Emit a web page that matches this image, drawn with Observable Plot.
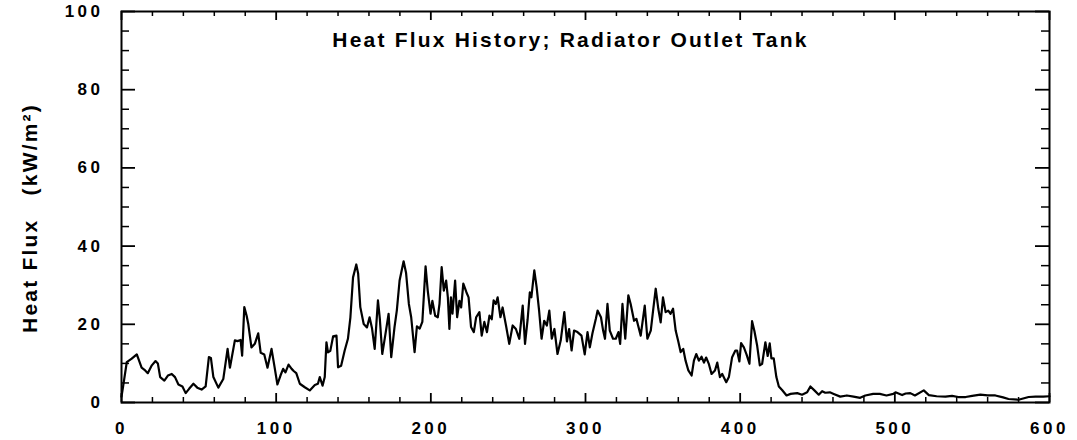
<!DOCTYPE html>
<html><head><meta charset="utf-8">
<script src="https://cdn.jsdelivr.net/npm/d3@7"></script>
<script src="https://cdn.jsdelivr.net/npm/@observablehq/plot@0.6"></script>
<style>body{margin:0;background:#fff;} svg{display:block;}</style>
</head><body><div id="chart"></div>
<script>
const time = [0,1,3.4,6.6,9.9,13,15.3,17,19.6,22,23.5,25,27.7,30,32.5,34.6,36.8,39.4,41.5,43.7,46.5,49,51.8,54.4,56.5,57.8,59.4,62.6,65.8,68.6,70.1,73.3,75,77,78,79.4,80.9,82,84,86.2,88.4,90,92.3,94.4,97,99,100.8,102.8,104.5,106,108,110,111.5,113,115.3,118.5,121.7,125,127,128.2,130,131.4,132.5,133.5,135,136.8,139,140,142,144.3,146.4,148,149.7,151.8,153,154.4,156.6,158.7,160.4,162,163.7,165.8,167,168.6,170.5,172.7,174.4,176.5,178,179.8,182.4,184,185.8,187.3,189.5,191,192.8,194.5,196.6,198,199.8,201,202.8,204.5,205.6,207,208.4,209.9,211,212,213,214,215.7,217,218.5,219.6,221,223,224.4,226,227.8,229.3,231.4,232.9,234.6,236.3,237.9,239.4,240.6,242,243.2,245,246.4,248.6,250.7,252.9,255,257.2,259.4,260.9,262.6,264,265,266.9,268.4,270,271.6,273.3,275,276.6,278.2,279.9,281.9,284,286.3,288,289.4,291,292.6,294.8,297.4,299.5,301.3,302.8,304.5,306.7,307.8,310,311.4,312.6,314.2,315.7,317.8,319.6,321.3,322.4,323.9,325.7,327.7,329.2,331.4,332.9,335.7,338.3,340,342.2,343.7,345.4,347.1,348.6,350.1,351.8,353.5,355,356.6,358.3,360,361.5,363.2,364.7,366.5,368.6,370.1,371.6,373.3,375,376.6,378,379.8,381.5,383.7,385.2,386.9,388.4,391,392.7,394.8,396.9,398,399.5,400.6,402.4,404.1,406,407.7,409.2,411,412.7,414.2,416.3,417.8,419.1,420.2,421.7,423.4,425,427.1,430,432.6,436.9,440,443.3,445.4,448,450.8,453,455,458,460.5,464.7,469,473.3,477.6,480.9,486,490.3,494.6,499,500.4,504.7,507,510,513,518.7,522,527,532.7,537,541,545.8,550,555.3,560,565,570,573.5,580,586.5,591,596,600];
const flux = [1.5,4,10.3,11.2,12.3,8.9,8.2,7.5,9.5,10.6,10,6.5,5.6,6.9,7.3,6.5,4.6,4.1,2.4,3.5,4.8,3.8,3.3,4.1,11.6,11.4,6.5,3.8,6,13.7,8.9,15.9,15.7,16,12,24.4,22.2,20,14.1,15,17.7,12.7,12.3,8.9,13.7,9,4.6,6.9,8.6,7.7,9.7,8.6,8,7.5,4.8,3.9,3.1,4.5,4.8,6.5,4.3,6.5,15.4,12.8,13.2,16.9,17.1,9,9.4,13.3,16.3,21.8,32,35.3,33,24.4,20.1,19.2,21.8,18.9,13.7,26.1,21.5,12.4,17.1,22.7,11.6,19.2,23.5,31.2,36.1,33.1,25.2,21.8,12.9,19.5,18.9,20.6,34.8,28.6,22.7,26,22.2,21.8,25.2,34.6,28.6,31.2,26.9,18.8,26.9,22.7,31.2,21.8,26,24.3,30.4,28.2,26.9,19.3,18,21.8,23.1,17.1,20.6,18,22.2,21.3,26.1,25.2,26.9,21.8,24.3,19.7,15,19.7,18.8,16.3,24.8,15,21.3,28.2,26.9,33.8,29.5,23.5,16.3,20.9,19.7,23.5,16.3,18.8,12.4,15.9,23.1,15.6,18.8,13.3,18.4,18,17.1,12.3,18,14.1,17.7,21.4,23.5,21.8,18.4,16.3,25.2,18.4,16.3,16.3,18,15,25.2,16.3,27.4,25.2,20.9,21.4,17.1,24.8,16.3,18.4,23.5,29.1,23.9,20.5,26.9,23.1,23.5,22.7,24,18.4,15.6,12.9,13.7,10.7,8.2,6.9,10.7,12.4,10.7,11.7,10.2,11.5,9.8,7.3,8.2,10.2,6.5,7.3,5.2,6.5,11.6,13.3,13.3,10.5,15.2,14.1,12.3,9.9,20.8,18.3,14.5,9.5,9.9,15.4,11.9,15.1,11.3,11.3,6.5,4.1,3.2,1.8,2.2,2.4,2,2.6,4.1,3.1,2,2.9,2.5,2.6,2.2,1.5,1.8,1.5,1.2,1.8,2.2,2.2,1.8,2.2,2.6,1.9,2.3,2.4,1.8,3.1,1.9,1.6,1.5,1.7,1.4,1.4,1.7,2,1.8,1.8,1.3,0.9,0.7,1.4,1.5,1.5,1.6];
const xMajor = [0,100,200,300,400,500,600];
const xMinor = [20,40,60,80,120,140,160,180,220,240,260,280,320,340,360,380,420,440,460,480,520,540,560,580];
const yMajor = [0,20,40,60,80,100];
const yMinor = [5,10,15,25,30,35,45,50,55,65,70,75,85,90,95];
const title = "Heat Flux History; Radiator Outlet Tank";
const yLabel = "Heat Flux\u2003(kW/m\u00B2)";

const W = 1077, H = 440, mL = 121, mR = 28, mT = 11, mB = 38;
const pw = W - mL - mR, ph = H - mT - mB;
const data = time.map((t, i) => ({t, v: flux[i]}));

const chart = Plot.plot({
  width: W, height: H,
  marginLeft: mL, marginRight: mR, marginTop: mT, marginBottom: mB,
  style: {fontFamily: "Liberation Sans, Arial, sans-serif", background: "#fff", color: "#000"},
  x: {domain: [0, 600]},
  y: {domain: [0, 100]},
  marks: [
    Plot.axisX({ticks: xMajor, tickSize: 0, tickPadding: 19, fontSize: 17, fontWeight: "bold", label: null}),
    Plot.axisY({ticks: yMajor, tickSize: 0, tickPadding: 18, fontSize: 17, fontWeight: "bold", label: null}),
    // inward ticks
    Plot.ruleY(yMajor, {stroke: "#000", strokeWidth: 1.8, insetRight: pw - 14}),
    Plot.ruleY(yMajor, {stroke: "#000", strokeWidth: 1.8, insetLeft: pw - 14}),
    Plot.ruleY(yMinor, {stroke: "#000", strokeWidth: 1.5, insetRight: pw - 8}),
    Plot.ruleY(yMinor, {stroke: "#000", strokeWidth: 1.5, insetLeft: pw - 8}),
    Plot.ruleX(xMajor, {stroke: "#000", strokeWidth: 1.8, insetTop: ph - 9}),
    Plot.ruleX(xMajor, {stroke: "#000", strokeWidth: 1.8, insetBottom: ph - 9}),
    Plot.ruleX(xMinor, {stroke: "#000", strokeWidth: 1.5, insetTop: ph - 5}),
    Plot.ruleX(xMinor, {stroke: "#000", strokeWidth: 1.5, insetBottom: ph - 5}),
    Plot.frame({stroke: "#000", strokeWidth: 2}),
    Plot.line(data, {x: "t", y: "v", stroke: "#000", strokeWidth: 2.2, strokeLinejoin: "round"}),
    Plot.text([title], {frameAnchor: "top", dy: 29, dx: -15, fontSize: 21, fontWeight: "bold", lineAnchor: "middle", textAnchor: "middle", fill: "#000"}),
    Plot.text([yLabel], {frameAnchor: "left", dx: -91, dy: 11, rotate: -90, fontSize: 21, fontWeight: "bold", lineAnchor: "middle", textAnchor: "middle", fill: "#000"})
  ]
});
document.getElementById("chart").appendChild(chart);
const svg = d3.select(chart);
svg.selectAll('g[aria-label="x-axis tick label"] text, g[aria-label="y-axis tick label"] text').style("letter-spacing", "3.5px");
svg.selectAll('g[aria-label="text"] text').style("letter-spacing", "2.2px");
</script>
</body></html>
